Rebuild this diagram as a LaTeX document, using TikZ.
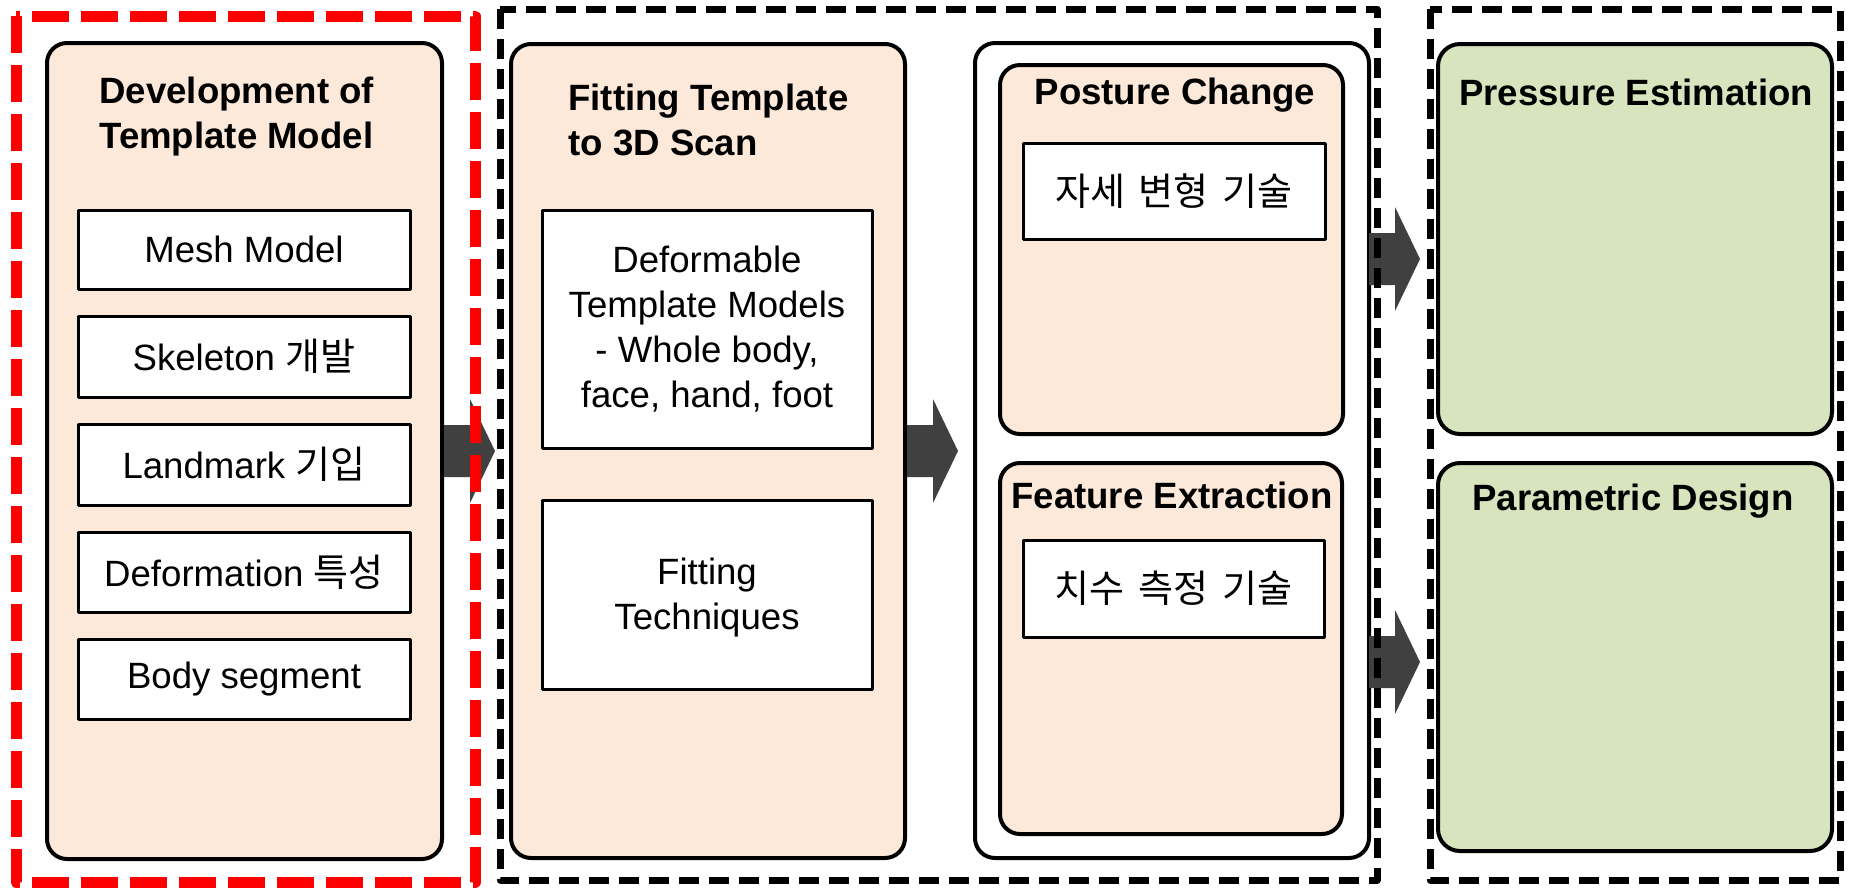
\documentclass[tikz,border=0pt]{standalone}
\usepackage{fontspec}
\setmainfont{Liberation Sans}
\newfontfamily\kr[Scale=1.04,WordSpace=1.6]{Noto Sans CJK KR}
\usepackage{tikz}
\usetikzlibrary{fit,calc}
\definecolor{beige}{HTML}{FDE9D9}
\definecolor{olive}{HTML}{D7E4BD}
\definecolor{arrowgrey}{HTML}{404040}
\definecolor{dashred}{HTML}{FF0000}
\newcommand{\drawBlockArrow}[1]{
    \begin{scope}[shift={(#1)}]
        \fill[arrowgrey] (0,-26) -- (26,-26) -- (26,-52) -- (51,0) -- (26,52) -- (26,26) -- (0,26) -- cycle;
    \end{scope}
}

\begin{document}
\begin{tikzpicture}[x=0.5pt,y=-0.5pt,line join=round,
    txt/.style={font=\fontsize{18.3}{22.5}\selectfont,inner sep=0pt,align=center},
    title/.style={font=\fontsize{18.3}{22.5}\selectfont\bfseries,inner sep=0pt},
    beigebox/.style={draw,line width=2pt,fill=beige,rounded corners=10pt,inner sep=0pt},
    wrapbox/.style={draw,line width=2pt,fill=white,rounded corners=10pt,inner sep=0pt},
    olivebox/.style={draw,line width=2pt,fill=olive,rounded corners=11pt,inner sep=0pt},
    whitebox/.style={draw,line width=1.5pt,fill=white,inner sep=0pt},
    reddash/.style={draw=dashred,line width=5.5pt,dash pattern=on 18.5pt off 6pt},
    blackdash/.style={draw=black,line width=3.5pt,dash pattern=on 10pt off 5pt}]

        \useasboundingbox (0,0) rectangle (1849,891);

        % --- Columns ---
        \node[beigebox,fit={(47,43) (442,859)}] (dev) {};
        \node[beigebox,fit={(511,44) (905,858)}] (fitting) {};
        \node[wrapbox,fit={(975,43) (1369,858)}] (wrap) {};
        \node[beigebox,fit={(1000,65) (1343,434)}] (posture) {};
        \node[beigebox,fit={(1000,463) (1342,834)}] (feature) {};
        \node[olivebox,fit={(1438,44) (1832,434)}] (pressure) {};
        \node[olivebox,fit={(1438,463) (1832,851)}] (parametric) {};

        % titles
        \node[title,anchor=west,align=left] (devtitle) at (99,117) {Development of\\Template Model};
        \node[title,anchor=west,align=left] (fittitle) at (568,120) {Fitting Template\\to 3D Scan};
        \node[title] (posttitle) at (1175,95) {Posture Change};
        \node[title] (feattitle) at (1172,495) {Feature Extraction};
        \node[title] (presstitle) at (1636,92) {Pressure Estimation};
        \node[title] (paramtitle) at (1633,501) {Parametric Design};

        % template model items
        \node[whitebox,fit={(78,210) (410,289)}] (mesh) {};
        \node[whitebox,fit={(78,316) (410,397)}] (skeleton) {};
        \node[whitebox,fit={(78,424) (410,505)}] (landmark) {};
        \node[whitebox,fit={(78,532) (410,612)}] (deformation) {};
        \node[whitebox,fit={(78,639) (410,719)}] (segment) {};
        \node[txt] (meshtext) at (mesh.center) {Mesh Model};
        \node[txt] (skeletontext) at (skeleton.center) {Skeleton {\kr 개발}};
        \node[txt] (landmarktext) at (landmark.center) {Landmark {\kr 기입}};
        \node[txt] (deformationtext) at (deformation.center) {Deformation {\kr 특성}};
        \node[txt] (segmenttext) at (segment.center) {Body segment};

        % fitting items
        \node[whitebox,fit={(542,210) (872,448)}] (deformable) {};
        \node[whitebox,fit={(542,500) (872,689)}] (techniques) {};
        \node[txt] (deformabletext) at (deformable.center) {Deformable\\Template Models\\- Whole body,\\face, hand, foot};
        \node[txt] (techniquestext) at ($(techniques.center)+(0,3)$) {Fitting\\Techniques};

        % posture and feature items
        \node[whitebox,fit={(1023,143) (1325,239)}] (postskill) {};
        \node[whitebox,fit={(1023,540) (1324,637)}] (measskill) {};
        \node[txt] (postskilltext) at (postskill.center) {\kr 자세 변형 기술};
        \node[txt] (measskilltext) at (measskill.center) {\kr 치수 측정 기술};

        % --- Block arrows ---
        \coordinate (a1) at (dev.east);
        \coordinate (a2) at (fitting.east);
        \coordinate (a3) at (1369,259);
        \coordinate (a4) at (1369,662);
        \drawBlockArrow{a1}
        \drawBlockArrow{a2}
        \drawBlockArrow{a3}
        \drawBlockArrow{a4}

        % --- Dashed frames ---
        \draw[reddash] (16,16) rectangle (475,882);
        \draw[blackdash] (500,9) rectangle (1377,880);
        \draw[blackdash] (1430,9) rectangle (1840,880);

\end{tikzpicture}
\end{document}
